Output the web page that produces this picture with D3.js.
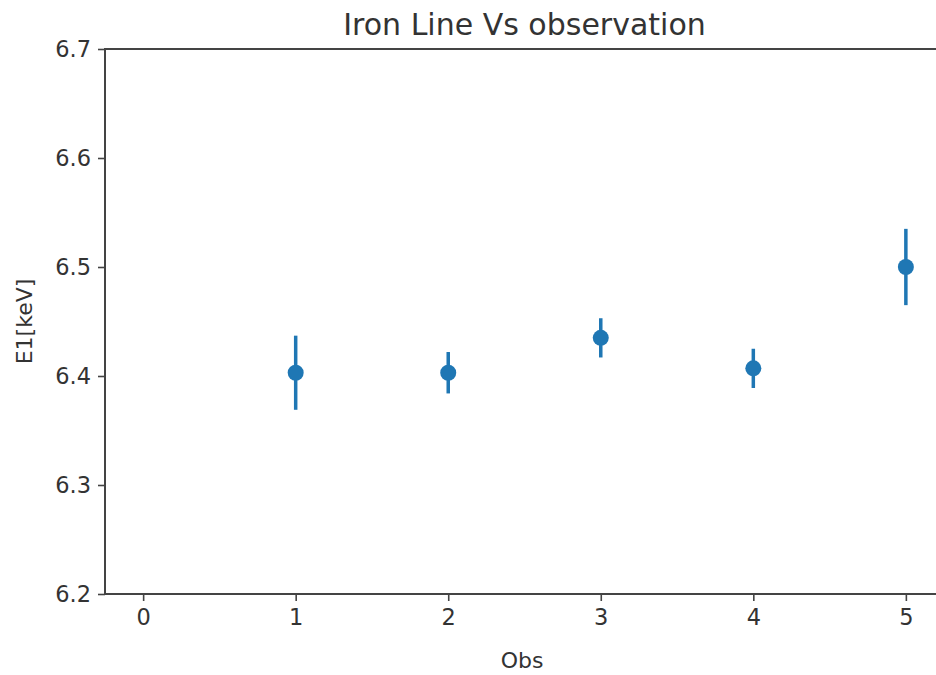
<!DOCTYPE html>
<html>
<head>
<meta charset="utf-8">
<script src="https://cdn.jsdelivr.net/npm/d3@7"></script>
<style>
  body { margin: 0; background: #fff; overflow: hidden; }
  text { font-family: "DejaVu Sans", sans-serif; fill: #333; }
</style>
</head>
<body>
<div id="chart"></div>
<script>
const obs = [1, 2, 3, 4, 5]
const energy = [6.403, 6.403, 6.435, 6.407, 6.500]
const energyErr = [0.034, 0.019, 0.018, 0.018, 0.035]
const xTicks = [0, 1, 2, 3, 4, 5]
const yTicks = [6.2, 6.3, 6.4, 6.5, 6.6, 6.7]

const svgWidth = 936, svgHeight = 675
const margin = {top: 49, left: 105}
const width = 839, height = 545

let data = obs.map((o, i) => ({obs: o, e: energy[i], err: energyErr[i]}))

let svg = d3.select('#chart')
    .append('svg')
    .attr('width', svgWidth)
    .attr('height', svgHeight)

let g = svg.append('g')
    .attr("transform", "translate(" + margin.left + "," + margin.top + ")")

let xScale = d3.scaleLinear().domain([-0.25, 5.25]).range([0, width])
let yScale = d3.scaleLinear().domain([6.2, 6.7]).range([height, 0])

// axes
let xAxis = g.append("g")
    .attr("transform", `translate(0,${height})`)
    .call(d3.axisBottom(xScale).tickValues(xTicks).tickFormat(d3.format("d")).tickSize(7).tickPadding(8))

let yAxis = g.append("g")
    .call(d3.axisLeft(yScale).tickValues(yTicks).tickFormat(d3.format(".1f")).tickSize(7).tickPadding(7))

for (let ax of [xAxis, yAxis]) {
    ax.select(".domain").remove()
    ax.selectAll("line").attr("stroke", "#444").attr("stroke-width", 1.6)
    ax.selectAll("text").style("font-size", "22.5px").attr("fill", "#333")
}

// spines (right one falls outside the picture)
g.append("path")
    .attr("d", `M${width},0H0V${height}H${width}`)
    .attr("fill", "none")
    .attr("stroke", "#444")
    .attr("stroke-width", 2)

// error bars
g.selectAll(".err")
    .data(data)
    .join("line")
    .attr("class", "err")
    .attr("x1", d => xScale(d.obs))
    .attr("x2", d => xScale(d.obs))
    .attr("y1", d => yScale(d.e - d.err))
    .attr("y2", d => yScale(d.e + d.err))
    .attr("stroke", "#1f77b4")
    .attr("stroke-width", 3.5)

g.selectAll("circle")
    .data(data)
    .join("circle")
    .attr("cx", d => xScale(d.obs))
    .attr("cy", d => yScale(d.e))
    .attr("r", 8)
    .attr("fill", "#1f77b4")

// labels
svg.append("text")
    .attr("x", margin.left + width / 2)
    .attr("y", 35)
    .attr("text-anchor", "middle")
    .style("font-size", "30px")
    .text("Iron Line Vs observation")

svg.append("text")
    .attr("x", 522)
    .attr("y", 668)
    .attr("text-anchor", "middle")
    .style("font-size", "22px")
    .text("Obs")

svg.append("text")
    .attr("transform", "translate(32," + (margin.top + height / 2) + ") rotate(-90)")
    .attr("text-anchor", "middle")
    .style("font-size", "22px")
    .text("E1[keV]")
</script>
</body>
</html>
